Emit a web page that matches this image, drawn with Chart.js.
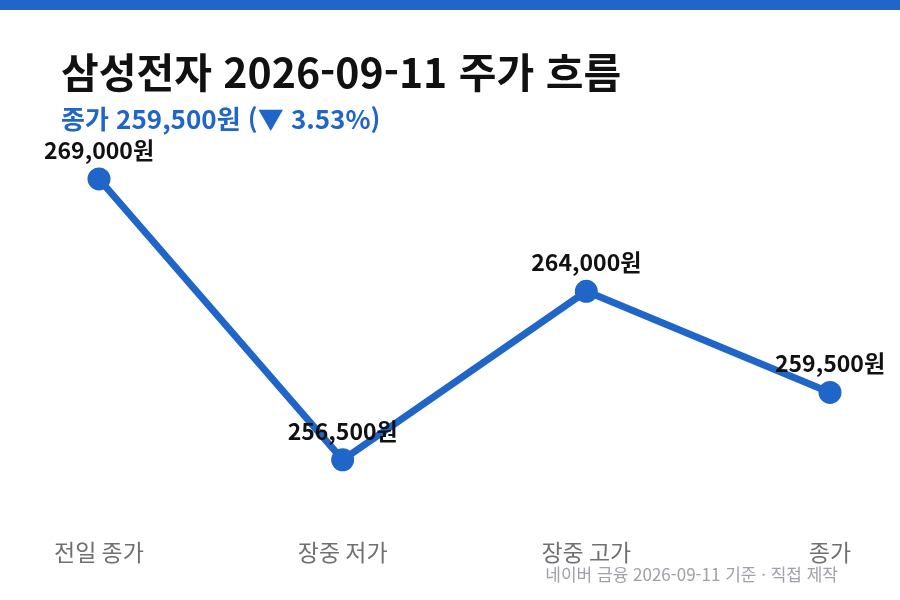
<!DOCTYPE html>
<html lang="ko">
<head>
<meta charset="utf-8">
<title>삼성전자 주가 흐름</title>
<script src="https://cdn.jsdelivr.net/npm/chart.js@4"></script>
<style>
  html, body { margin: 0; padding: 0; background: #fff; }
  body { width: 900px; height: 600px; position: relative; overflow: hidden;
         font-family: "Noto Sans CJK KR", "Noto Sans", sans-serif; }
  .topbar { position: absolute; left: 0; top: 0; width: 900px; height: 10px; background: #2065c8; }
  .title { position: absolute; left: 61px; top: 46px; font-size: 41px; font-weight: 700; color: #111; line-height: 1.2; white-space: nowrap; }
  .subtitle { position: absolute; left: 61px; top: 102px; font-size: 26px; font-weight: 700; color: #2065c8; line-height: 1.2; white-space: nowrap; }
  .footer { position: absolute; right: 62px; top: 564px; font-size: 17px; color: #a0a0a8; line-height: 1.2; white-space: nowrap; }
  #wrap { position: absolute; left: 0; top: 0; width: 900px; height: 600px; }
</style>
</head>
<body>
<div id="wrap"><canvas id="chart"></canvas></div>
<div class="topbar"></div>
<div class="title">삼성전자 2026-09-11 주가 흐름</div>
<div class="subtitle">종가 259,500원 (▼ 3.53%)</div>
<div class="footer">네이버 금융 2026-09-11 기준 · 직접 제작</div>
<script>
// 데이터
const labels = ["전일 종가", "장중 저가", "장중 고가", "종가"];
const prices = [269000, 256500, 264000, 259500];
const yMin = 254000;
const yMax = 271000;

const blue = "#2065c8";

// 점 위에 가격 표시
const priceLabels = {
    id: "priceLabels",
    afterDatasetsDraw(chart) {
        const ctx = chart.ctx;
        const meta = chart.getDatasetMeta(0);
        ctx.save();
        ctx.font = "700 23px 'Noto Sans CJK KR', sans-serif";
        ctx.fillStyle = "#111";
        ctx.textAlign = "center";
        ctx.textBaseline = "alphabetic";
        meta.data.forEach(function (pt, i) {
            const text = prices[i].toLocaleString("ko-KR") + "원";
            ctx.fillText(text, pt.x, pt.y - 20);
        });
        ctx.restore();
    }
};

const ctx = document.getElementById("chart").getContext("2d");
new Chart(ctx, {
    type: "line",
    data: {
        labels: labels,
        datasets: [
            {
                data: prices,
                borderColor: blue,
                backgroundColor: blue,
                borderWidth: 7,
                pointRadius: 8,
                pointHoverRadius: 8,
                tension: 0,
                fill: false,
            },
        ],
    },
    options: {
        responsive: true,
        maintainAspectRatio: false,
        animation: false,
        layout: { padding: { left: 99, right: 70, top: 134, bottom: 0 } },
        plugins: {
            legend: { display: false },
            tooltip: { enabled: false },
        },
        scales: {
            x: {
                offset: false,
                grid: { display: false, drawTicks: false },
                border: { display: false },
                ticks: {
                    color: "#707070",
                    padding: 22,
                    font: { family: "'Noto Sans CJK KR', sans-serif", size: 23 },
                    maxRotation: 0,
                },
                afterFit(scale) { scale.height = 84; },
            },
            y: {
                display: false,
                min: yMin,
                max: yMax,
            },
        },
    },
    plugins: [priceLabels],
});
</script>
</body>
</html>
